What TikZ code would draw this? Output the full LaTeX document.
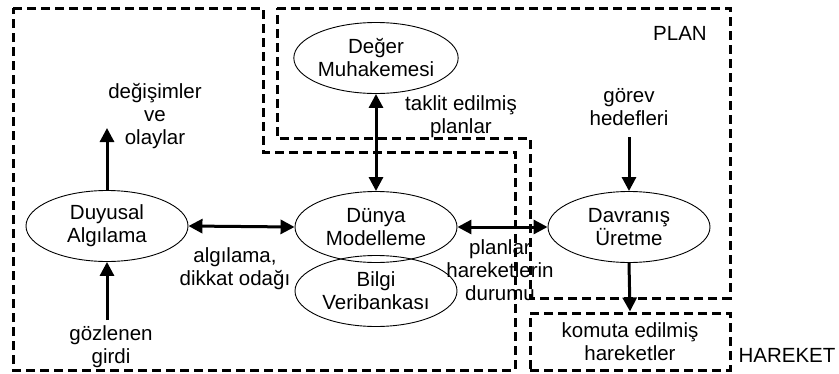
\documentclass[tikz,border=0pt]{standalone}
\usepackage{fontspec}
\setmainfont{Liberation Sans}
\usetikzlibrary{arrows.meta,shapes.geometric}
\begin{document}
\begin{tikzpicture}[x=1pt,y=-1pt,
  every node/.style={font=\fontsize{20.5}{23}\selectfont, align=center, inner sep=0pt},
  module/.style={ellipse, draw, line width=0.9pt, minimum width=162pt, minimum height=71pt},
  region/.style={line width=3pt, dash pattern=on 9pt off 5pt, line join=miter},
  flow/.style={line width=3pt, -{Triangle[length=14pt,width=14pt]}},
  biflow/.style={line width=3pt, {Triangle[length=14pt,width=14pt]}-{Triangle[length=14pt,width=14pt]}},
  lbl/.style={}]
\useasboundingbox (0,0) rectangle (839,373);

% modules
\node[module] (vj)  at (376,58)  {Değer\\Muhakemesi};
\node[module] (sp)  at (107,226) {Duyusal\\Algılama};
\node[module] (wm)  at (376,227) {Dünya\\Modelleme};
\node[module] (kd)  at (376,291) {Bilgi\\Veribankası};
\node[module] (bg)  at (629,227) {Davranış\\Üretme};

% labels
\node[lbl] (chg)  at (155,116) {değişimler\\ve\\olaylar};
\node[lbl] (imit) at (461,117) {taklit edilmiş\\planlar};
\node[lbl] (goal) at (629,107) {görev\\hedefleri};
\node[lbl] (plan) at (680,33)  {PLAN};
\node[lbl] (attn) at (235,269) {algılama,\\dikkat odağı};
\node[lbl] (obs)  at (111,347) {gözlenen\\girdi};
\node[lbl] (stat) at (500,270) {planlar\\hareketlerin\\durumu};
\node[lbl] (act)  at (787,355) {HAREKET};
\node[region, draw, minimum width=200pt, minimum height=57pt] (cmd) at (630,341.5) {komuta edilmiş\\hareketler};

% free ends of the open arrows
\coordinate (chgend) at (107,128);
\coordinate (obsstart) at (107,320);
\coordinate (goalstart) at (629,137);

% dashed regions
\draw[region] (13,8) -- (263,8) -- (263,152) -- (515,152) -- (515,370) -- (13,370) -- cycle;
\draw[region] (277,8) -- (730,8) -- (730,298) -- (530,298) -- (530,138) -- (277,138) -- cycle;

% connectors
\draw[biflow] (sp.east) -- (wm.west);
\draw[biflow] (wm.east) -- (bg.west);
\draw[biflow] (vj.south) -- (wm.north);
\draw[flow] (sp.north) -- (chgend);
\draw[flow] (obsstart) -- (sp.south);
\draw[flow] (goalstart) -- (bg.north);
\draw[flow] (bg.south) -- (cmd.north);
\end{tikzpicture}
\end{document}
